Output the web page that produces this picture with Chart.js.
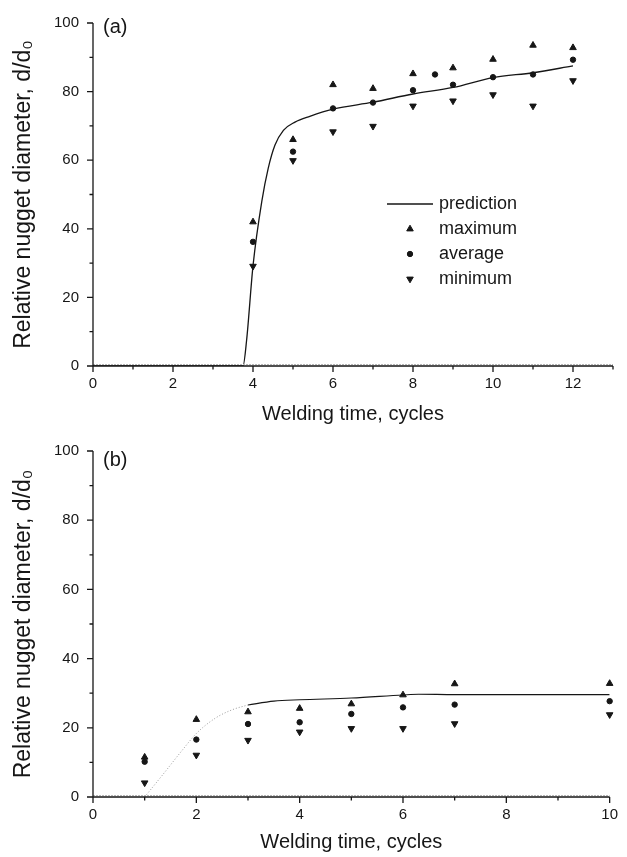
<!DOCTYPE html>
<html>
<head>
<meta charset="utf-8">
<script src="https://cdn.jsdelivr.net/npm/chart.js@4.4.1/dist/chart.umd.min.js"></script>
<style>
  html, body { margin: 0; padding: 0; background: #fff; }
  #wrap { position: relative; width: 627px; height: 857px; }
  .panel { position: absolute; left: 0; width: 627px; }
  #panelA { top: 0; height: 428px; }
  #panelB { top: 428px; height: 429px; }
</style>
</head>
<body>
<div id="wrap">
  <div class="panel" id="panelA"><canvas id="chartA" width="627" height="428"></canvas></div>
  <div class="panel" id="panelB"><canvas id="chartB" width="627" height="429"></canvas></div>
</div>
<script>
// --- panel (a) ---
const timeA    = [4, 5, 6, 7, 8, 9, 10, 11, 12];
const maxA     = [42, 66, 82, 80.9, 85.2, 86.9, 89.4, 93.5, 92.8];
const minA     = [29.1, 59.9, 68.3, 69.9, 75.8, 77.3, 79.1, 75.8, 83.2];
const avgTimeA = [4, 5, 6, 7, 8, 8.55, 9, 10, 11, 12];
const avgA     = [36.2, 62.5, 75.1, 76.8, 80.4, 85, 82, 84.2, 85, 89.3];
const predTimeA = [0, 3.75, 3.84, 4.0, 4.22, 4.38, 4.55, 4.76, 5.05, 5.42, 6, 7, 8, 9, 10, 11, 12];
const predA     = [0, 0, 7.5, 29.2, 48, 57.6, 64.4, 68.7, 71.1, 72.8, 74.9, 76.9, 79.3, 81.2, 84.1, 85.5, 87.5];

// --- panel (b) ---
const timeB = [1, 2, 3, 4, 5, 6, 7, 10];
const maxB  = [11.5, 22.4, 24.6, 25.6, 26.9, 29.5, 32.7, 32.8];
const avgB  = [10.2, 16.6, 21.1, 21.6, 24, 25.9, 26.7, 27.7];
const minB  = [4.1, 12.1, 16.4, 18.8, 19.8, 19.8, 21.2, 23.8];
const predDotTimeB = [1, 1.38, 1.71, 2.01, 2.38, 2.71, 3];
const predDotB     = [0, 7, 13.2, 18.5, 22.9, 25.3, 26.6];
const predTimeB    = [3, 3.5, 4, 5, 6, 6.3, 7, 10];
const predB        = [26.6, 27.7, 28.1, 28.6, 29.5, 29.7, 29.6, 29.6];

// axis ticks
const X_MAX_A = 13, X_MAX_B = 10;
const X_LABEL_STEP = 2, Y_LABEL_STEP = 20;

const FONT = "'Liberation Sans', Arial, sans-serif";
const INK = '#161616';

const toXY = (xs, ys) => xs.map((x, i) => ({ x, y: ys[i] }));

// 軸と目盛り（Origin風: 左と下だけ、外向き）
const axesPlugin = {
    id: 'originAxes',
    afterDraw(chart) {
        const { ctx, chartArea: a, scales: { x, y } } = chart;
        const y0 = y.getPixelForValue(0);
        ctx.save();
        ctx.strokeStyle = '#b8b8b8'; ctx.lineWidth = 1; ctx.setLineDash([2, 1]);
        ctx.beginPath(); ctx.moveTo(a.left, y0 - 1.5); ctx.lineTo(a.right, y0 - 1.5); ctx.stroke();
        ctx.setLineDash([]);
        ctx.strokeStyle = INK; ctx.lineWidth = 1.3;
        ctx.beginPath();
        ctx.moveTo(a.left, a.top); ctx.lineTo(a.left, a.bottom); ctx.lineTo(a.right, a.bottom);
        x.ticks.forEach(t => {
            const px = x.getPixelForValue(t.value);
            const len = t.value % X_LABEL_STEP === 0 ? 6 : 3.5;
            ctx.moveTo(px, a.bottom); ctx.lineTo(px, a.bottom + len);
        });
        y.ticks.forEach(t => {
            const py = y.getPixelForValue(t.value);
            const len = t.value % Y_LABEL_STEP === 0 ? 6 : 3.5;
            ctx.moveTo(a.left, py); ctx.lineTo(a.left - len, py);
        });
        ctx.stroke();
        ctx.restore();
    }
};

// 凡例と (a)/(b) ラベル
const legendPlugin = {
    id: 'boxLegend',
    afterDraw(chart, args, opts) {
        const ctx = chart.ctx;
        ctx.save();
        ctx.font = `18px ${FONT}`;
        ctx.textBaseline = 'middle';
        let row = 0;
        chart.data.datasets.forEach(ds => {
            if (ds.hideInLegend) return;
            const cy = opts.y + row * opts.rowHeight;
            if (ds.showLine) {
                ctx.strokeStyle = ds.borderColor; ctx.lineWidth = ds.borderWidth;
                ctx.beginPath(); ctx.moveTo(opts.x, cy); ctx.lineTo(opts.x + opts.lineLength, cy); ctx.stroke();
            } else {
                ctx.fillStyle = ds.backgroundColor; ctx.strokeStyle = ds.borderColor; ctx.lineWidth = 1;
                Chart.helpers.drawPoint(ctx, { pointStyle: ds.pointStyle, radius: ds.pointRadius, rotation: ds.rotation || 0, borderWidth: 1 }, opts.x + opts.lineLength / 2, cy);
            }
            ctx.fillStyle = INK;
            ctx.fillText(ds.label, opts.x + opts.lineLength + opts.gap, cy);
            row++;
        });
        ctx.font = `20px ${FONT}`;
        ctx.fillText(opts.panel.text, opts.panel.x, opts.panel.y);
        ctx.restore();
    }
};

function markerSets(tMax, vMax, tAvg, vAvg, tMin, vMin) {
    const base = { backgroundColor: INK, borderColor: INK, borderWidth: 1, clip: false };
    return [
        { ...base, label: 'maximum', data: toXY(tMax, vMax), pointStyle: 'triangle', pointRadius: 3.8 },
        { ...base, label: 'average', data: toXY(tAvg, vAvg), pointStyle: 'circle', pointRadius: 2.7 },
        { ...base, label: 'minimum', data: toXY(tMin, vMin), pointStyle: 'triangle', rotation: 180, pointRadius: 3.8 }
    ];
}

function makeChart(id, cfg) {
    const ctx = document.getElementById(id).getContext('2d');
    return new Chart(ctx, {
        type: 'scatter',
        data: { datasets: cfg.datasets },
        options: {
            responsive: false, animation: false,
            layout: { padding: { top: cfg.padTop, right: 14, left: 0, bottom: 0 } },
            plugins: { legend: { display: false }, tooltip: { enabled: false }, boxLegend: cfg.legend },
            scales: {
                x: {
                    type: 'linear', min: 0, max: cfg.xMax,
                    afterFit: (s) => { s.height = cfg.xAxisHeight; },
                    grid: { display: false, drawTicks: false }, border: { display: false },
                    ticks: { stepSize: 1, autoSkip: false, maxRotation: 0, padding: 9, color: INK, font: { family: FONT, size: 15 },
                        callback: (v) => v % X_LABEL_STEP === 0 ? v : '' },
                    title: { display: true, text: 'Welding time, cycles', color: INK, font: { family: FONT, size: 20, lineHeight: 1 }, padding: { top: 0, bottom: cfg.titlePadBottom } }
                },
                y: {
                    min: 0, max: 100,
                    afterFit: (s) => { s.width = 93; },
                    grid: { display: false, drawTicks: false }, border: { display: false },
                    ticks: { stepSize: 10, autoSkip: false, padding: 14, color: INK, font: { family: FONT, size: 15 },
                        callback: (v) => v % Y_LABEL_STEP === 0 ? v : '' },
                    title: { display: true, text: 'Relative nugget diameter, d/d₀', color: INK, font: { family: FONT, size: 23, lineHeight: 1 }, padding: { top: 12, bottom: 0 } }
                }
            }
        },
        plugins: [axesPlugin, legendPlugin]
    });
}

makeChart('chartA', {
    xMax: X_MAX_A, padTop: 20, xAxisHeight: 62, titlePadBottom: 4,
    legend: { x: 387, y: 204, rowHeight: 25, lineLength: 46, gap: 6, panel: { text: '(a)', x: 103, y: 27 } },
    datasets: [
        { label: 'prediction', data: toXY(predTimeA, predA), showLine: true, pointRadius: 0, borderColor: INK, borderWidth: 1.3, cubicInterpolationMode: 'monotone' },
        ...markerSets(timeA, maxA, avgTimeA, avgA, timeA, minA)
    ]
});

makeChart('chartB', {
    xMax: X_MAX_B, padTop: 23, xAxisHeight: 60, titlePadBottom: 5,
    legend: { x: 197, y: 492, rowHeight: 25, lineLength: 46, gap: 6, panel: { text: '(b)', x: 103, y: 460 - 428 } },
    datasets: [
        { label: 'prediction', data: toXY(predTimeB, predB), showLine: true, pointRadius: 0, borderColor: INK, borderWidth: 1.1, cubicInterpolationMode: 'monotone' },
        { label: 'prediction (dotted)', hideInLegend: true, data: toXY(predDotTimeB, predDotB), showLine: true, pointRadius: 0, borderColor: '#9a9a9a', borderWidth: 1, borderDash: [1, 2], cubicInterpolationMode: 'monotone' },
        ...markerSets(timeB, maxB, timeB, avgB, timeB, minB)
    ]
});
</script>
</body>
</html>
